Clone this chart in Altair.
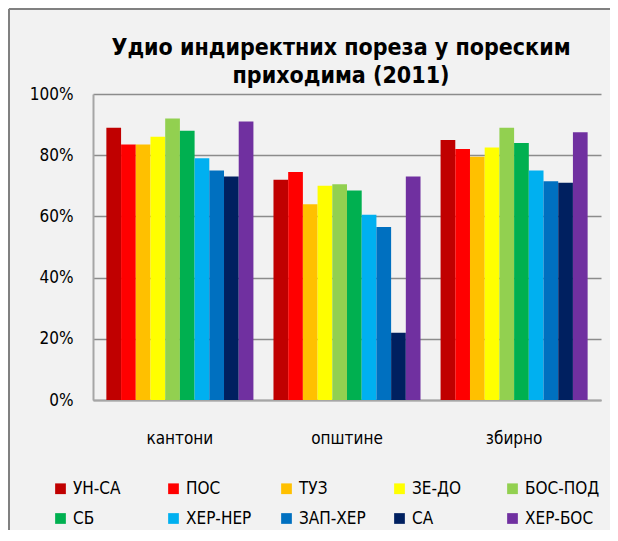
import altair as alt
import pandas as pd

groups = ["кантони", "општине", "збирно"]
series = ["УН-СА", "ПОС", "ТУЗ", "ЗЕ-ДО", "БОС-ПОД", "СБ", "ХЕР-НЕР", "ЗАП-ХЕР", "СА", "ХЕР-БОС"]
colors = ["#C00000", "#FF0000", "#FFC000", "#FFFF00", "#92D050", "#00B050", "#00B0F0", "#0070C0", "#002060", "#7030A0"]
title_lines = ["Удио индиректних пореза у пореским", "приходима (2011)"]

kantoni = [0.89, 0.835, 0.835, 0.86, 0.92, 0.88, 0.79, 0.75, 0.73, 0.91]
opstine = [0.72, 0.745, 0.64, 0.70, 0.705, 0.685, 0.605, 0.565, 0.22, 0.73]
zbirno = [0.85, 0.82, 0.795, 0.825, 0.89, 0.84, 0.75, 0.715, 0.71, 0.875]

rows = []
for g, vals in zip(groups, [kantoni, opstine, zbirno]):
    for s, v in zip(series, vals):
        rows.append({"group": g, "series": s, "value": v})
df = pd.DataFrame(rows)

W, H = 508, 306
FONT = "Liberation Sans Narrow, DejaVu Sans Condensed, sans-serif"

bars = alt.Chart(df).mark_bar(stroke=None).encode(
    x=alt.X("group:N", sort=groups, title=None,
            scale=alt.Scale(paddingInner=0.12, paddingOuter=0.08),
            axis=alt.Axis(labelAngle=0, labelFontSize=17, labelFont=FONT, labelColor="#000000",
                          labelPadding=30, ticks=False, domainColor="#A6A6A6", domainWidth=2)),
    xOffset=alt.XOffset("series:N", sort=series, scale=alt.Scale(paddingInner=0, paddingOuter=0)),
    y=alt.Y("value:Q", title=None,
            scale=alt.Scale(domain=[0, 1]),
            axis=alt.Axis(format=".0%", values=[0, 0.2, 0.4, 0.6, 0.8, 1.0], labelFontSize=17,
                          labelFont=FONT, labelColor="#000000", labelPadding=20, ticks=False,
                          grid=True, gridColor="#8C8C8C", gridWidth=1.5,
                          domainColor="#A6A6A6", domainWidth=2)),
    color=alt.Color("series:N", sort=series, title=None,
                    scale=alt.Scale(domain=series, range=colors),
                    legend=alt.Legend(orient="none", legendX=-41, legendY=386, direction="horizontal",
                                      columns=5, symbolType="square", symbolSize=115,
                                      symbolStrokeWidth=0, labelFontSize=17, labelFont=FONT,
                                      labelColor="#000000", gridAlign="all", columnPadding=17,
                                      rowPadding=12, symbolOffset=0, labelOffset=4)),
)

frame_df = pd.DataFrame({"a": [0]})
left_line = alt.Chart(frame_df).mark_rule(color="#808080", strokeWidth=2).encode(
    x=alt.value(-84), y=alt.value(-85), y2=alt.value(H + 130))
top_line = alt.Chart(frame_df).mark_rule(color="#808080", strokeWidth=2).encode(
    x=alt.value(-84), x2=alt.value(W + 20), y=alt.value(-85))
title = alt.Chart(frame_df).mark_text(
    text=title_lines, fontSize=23, font="DejaVu Sans Condensed, DejaVu Sans, sans-serif",
    fontWeight="bold", color="#000000", align="center", baseline="alphabetic", lineHeight=28,
).encode(x=alt.value(W / 2 - 6), y=alt.value(-39))

chart = alt.layer(bars, left_line, top_line, title).properties(
    width=W, height=H,
    autosize="none",
    padding={"left": 85, "top": 86, "right": 9, "bottom": 130},
    background="#F2F2F2",
).configure_view(stroke=None)

chart.save("out.html", embed_options={"renderer": "svg", "actions": False})
